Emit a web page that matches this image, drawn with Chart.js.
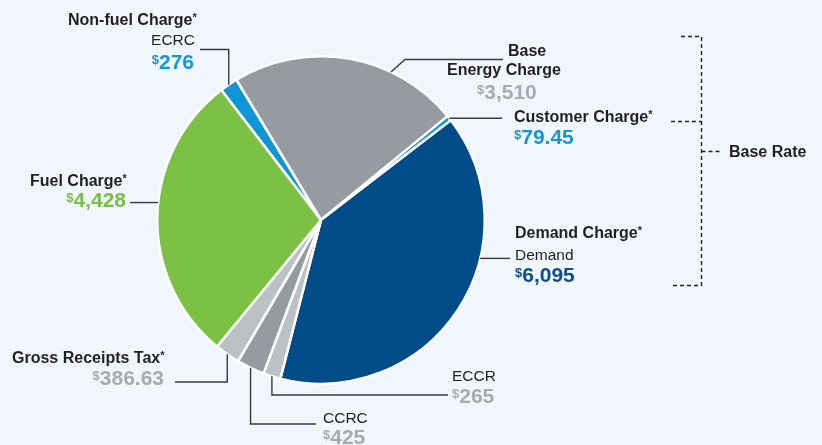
<!DOCTYPE html>
<html>
<head>
<meta charset="utf-8">
<script src="https://cdn.jsdelivr.net/npm/chart.js@4.4.0/dist/chart.umd.min.js"></script>
<style>
    html, body { margin: 0; padding: 0; background: #f1f6fc; }
    #chart-pie { display: block; }
</style>
</head>
<body>
<canvas id="chart-pie" width="822" height="445"></canvas>
<script>
// slices, clockwise from the top-left
const categories = ['ECRC', 'Base Energy Charge', 'Customer Charge', 'Demand', 'ECCR', 'CCRC', 'Gross Receipts Tax', 'Fuel Charge'];
const values = [276, 3510, 79.45, 6095, 265, 425, 386.63, 4428];
const groupTitles = ['Non-fuel Charge', 'Demand Charge', 'Base Rate'];

const sliceColors = ['#0e96d6', '#959ba1', '#0e96d6', '#004c89', '#bcc1c5', '#959ba1', '#bcc1c5', '#7bc143'];
const FONT = '"Liberation Sans", Arial, Helvetica, sans-serif';
const DARK = '#231f20';
const GREY_TXT = '#a6abb0';

const fmt = new Intl.NumberFormat('en-US', { maximumFractionDigits: 2 });

// leader lines: where on the slice they start (fraction of the arc) and where they go
const leaders = [
    { f: 0.5,  path: a => [[a.x, 49.5], [200, 49.5]] },
    { f: 0.69, path: a => [[405, 59.5], [503, 59.5]] },
    { f: 0.5,  path: a => [[502, a.y]] },
    { f: 0.36, path: a => [[510, a.y]] },
    { f: 0.5,  path: a => [[a.x, 395], [448, 395]] },
    { f: 0.5,  path: a => [[a.x, 424], [316, 424]] },
    { f: 0.5,  path: a => [[a.x, 382], [175, 382]] },
    { f: 0.55, path: a => [[130, a.y]] }
];

function bold(size) { return 'bold ' + size + 'px ' + FONT; }
function regular(size) { return size + 'px ' + FONT; }

// draw a run of text pieces, each piece may be raised (superscript)
function drawRun(ctx, pieces, x, y, align) {
    let total = 0;
    pieces.forEach(p => { ctx.font = p.font; total += ctx.measureText(p.t).width; });
    let cx = align === 'right' ? x - total : x;
    ctx.textAlign = 'left';
    ctx.textBaseline = 'alphabetic';
    pieces.forEach(p => {
        ctx.font = p.font;
        ctx.fillStyle = p.color;
        ctx.fillText(p.t, cx, y - (p.rise || 0));
        cx += ctx.measureText(p.t).width;
    });
}

function heading(text, star) {
    const parts = [{ t: text, font: bold(16), color: DARK }];
    if (star) parts.push({ t: '*', font: bold(11), color: DARK, rise: 4 });
    return parts;
}

function money(i, color) {
    return [
        { t: '$', font: bold(13), color: color, rise: 5 },
        { t: fmt.format(values[i]), font: bold(21), color: color }
    ];
}

function plain(text) {
    return [{ t: text, font: regular(15.5), color: DARK }];
}

const labelPlugin = {
    id: 'labels',
    afterDraw(chart) {
        const ctx = chart.ctx;
        const meta = chart.getDatasetMeta(0);

        ctx.save();
        ctx.strokeStyle = '#3a3a3a';
        ctx.lineWidth = 1.4;
        leaders.forEach((l, i) => {
            const arc = meta.data[i];
            const ang = arc.startAngle + l.f * (arc.endAngle - arc.startAngle);
            const a = {
                x: arc.x + arc.outerRadius * Math.cos(ang),
                y: arc.y + arc.outerRadius * Math.sin(ang)
            };
            ctx.beginPath();
            ctx.moveTo(a.x, a.y);
            l.path(a).forEach(p => ctx.lineTo(p[0], p[1]));
            ctx.stroke();
        });

        // dashed bracket for the base rate
        ctx.setLineDash([4, 3]);
        ctx.lineWidth = 1.4;
        ctx.strokeStyle = '#222222';
        ctx.beginPath();
        ctx.moveTo(681, 36.5); ctx.lineTo(701.5, 36.5); ctx.lineTo(701.5, 285.5); ctx.lineTo(672, 285.5);
        ctx.moveTo(671, 121.5); ctx.lineTo(701.5, 121.5);
        ctx.moveTo(701.5, 151.5); ctx.lineTo(720, 151.5);
        ctx.stroke();
        ctx.setLineDash([]);

        // ECRC
        drawRun(ctx, heading(groupTitles[0], true), 68, 24.5, 'left');
        drawRun(ctx, plain(categories[0]), 195, 45, 'right');
        drawRun(ctx, money(0, '#1596d6'), 194, 69, 'right');

        // Base energy charge
        drawRun(ctx, heading('Base', false), 508, 56, 'left');
        drawRun(ctx, heading('Energy Charge', false), 447, 75, 'left');
        drawRun(ctx, money(1, GREY_TXT), 477, 98.5, 'left');

        // Customer charge
        drawRun(ctx, heading(categories[2], true), 514, 121.5, 'left');
        drawRun(ctx, money(2, '#1596d6'), 514, 143.5, 'left');

        // Demand
        drawRun(ctx, heading(groupTitles[1], true), 515, 237.5, 'left');
        drawRun(ctx, plain(categories[3]), 515, 259.5, 'left');
        drawRun(ctx, money(3, '#0d4f8e'), 515, 282, 'left');

        // ECCR
        drawRun(ctx, plain(categories[4]), 452, 381, 'left');
        drawRun(ctx, money(4, GREY_TXT), 452, 403, 'left');

        // CCRC
        drawRun(ctx, plain(categories[5]), 323, 422.5, 'left');
        drawRun(ctx, money(5, GREY_TXT), 323, 443.5, 'left');

        // Gross receipts tax
        drawRun(ctx, heading(categories[6], true), 12, 363, 'left');
        drawRun(ctx, money(6, GREY_TXT), 164, 385, 'right');

        // Fuel
        drawRun(ctx, heading(categories[7], true), 30, 186, 'left');
        drawRun(ctx, money(7, '#78bf43'), 126, 207, 'right');

        drawRun(ctx, heading(groupTitles[2], false), 729, 157, 'left');
        ctx.restore();
    }
};

const ctx = document.getElementById('chart-pie').getContext('2d');
const pieChart = new Chart(ctx, {
    type: 'pie',
    data: {
        labels: categories,
        datasets: [{
            data: values,
            backgroundColor: sliceColors,
            borderColor: '#ffffff',
            borderWidth: 2.5
        }]
    },
    options: {
        responsive: false,
        animation: false,
        rotation: -37.5,
        layout: {
            padding: { left: 156, right: 336, top: 55, bottom: 60 }
        },
        plugins: {
            legend: { display: false },
            tooltip: { enabled: false }
        }
    },
    plugins: [labelPlugin]
});
</script>
</body>
</html>
